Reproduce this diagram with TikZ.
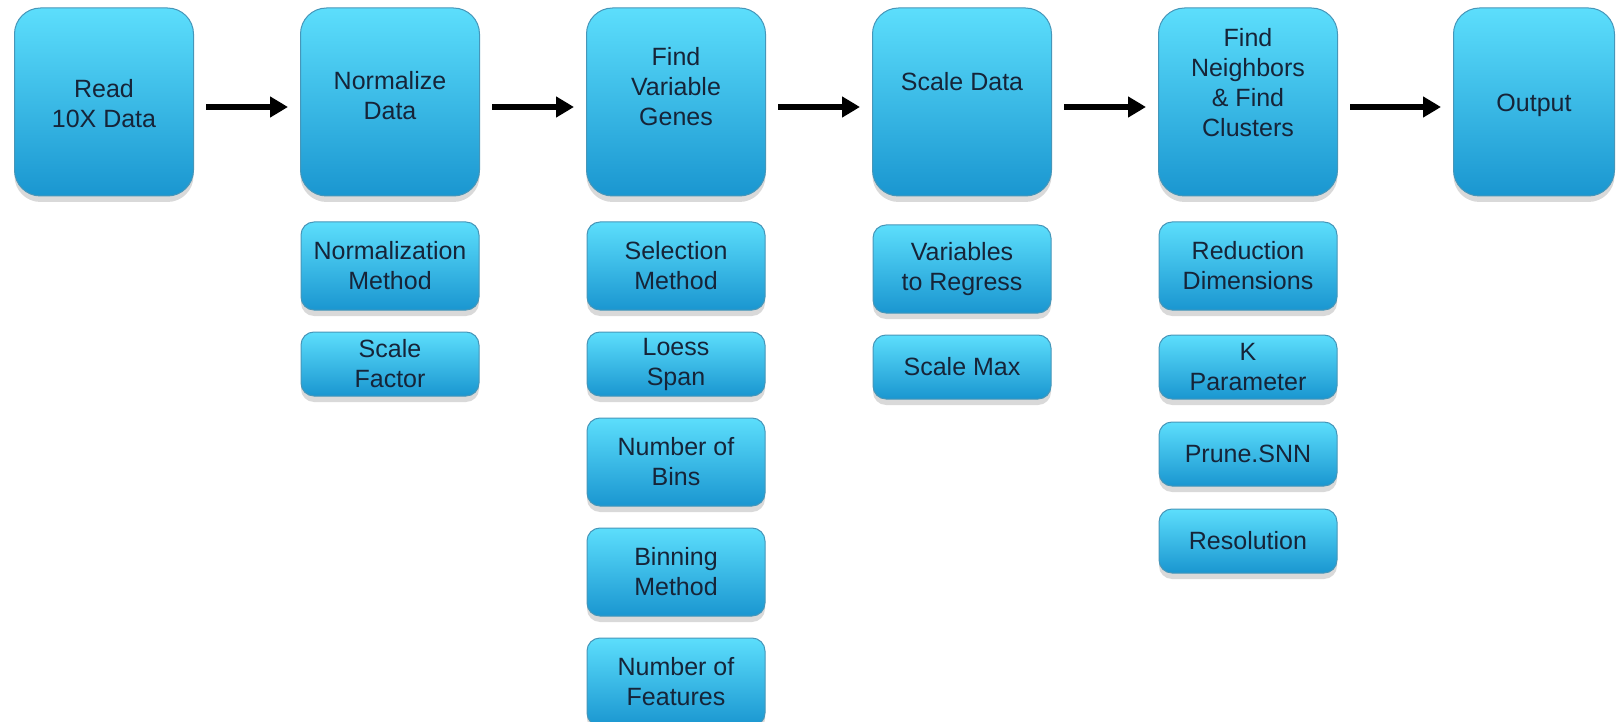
\documentclass[tikz,border=0pt]{standalone}
\usepackage{fontspec}
\setmainfont{Liberation Sans}
\usetikzlibrary{arrows.meta}
\usetikzlibrary{positioning}
\usetikzlibrary{shadows}
\definecolor{boxtop}{RGB}{92,222,252}
\definecolor{boxbot}{RGB}{26,150,208}
\definecolor{boxline}{RGB}{70,150,185}
\definecolor{boxtext}{RGB}{22,36,56}

\begin{document}
\begin{tikzpicture}[x=0.5pt,y=-0.5pt,>={Triangle[length=9pt,width=10pt]}]
		\tikzstyle{box}=[rectangle,draw=boxline,line width=0.5pt,top color=boxtop,bottom color=boxbot,
			text=boxtext,font=\fontsize{12.5}{15}\selectfont,align=center,
			drop shadow={shadow xshift=0pt,shadow yshift=-3pt,opacity=0.3}];
		\tikzstyle{stepbox}=[box,rounded corners=13pt,minimum width=89.5pt,minimum height=94pt,node distance=143pt];
		\tikzstyle{steptext}=[text=boxtext,font=\fontsize{12.5}{15}\selectfont,align=center];
		\tikzstyle{parbox}=[box,rounded corners=6.5pt,minimum width=89pt,minimum height=44pt,inner sep=1pt];
		\tikzstyle{short}=[minimum height=32pt];
		\tikzstyle{flow}=[line width=3pt,shorten <=6pt,shorten >=6pt,transform canvas={yshift=-2.5pt}];
		\useasboundingbox (0,0) rectangle (1619,722);

		\node[stepbox,label={[steptext,yshift=-1pt]center:Read\\10X Data}](00) at (104,102){};
		\node[stepbox,right of=00,label={[steptext,yshift=3pt]center:Normalize\\Data}](10){}edge[<-,flow](00);
		\node[stepbox,right of=10,label={[steptext,yshift=7.5pt]center:Find\\Variable\\Genes}](20){}edge[<-,flow](10);
		\node[stepbox,right of=20,label={[steptext,yshift=10pt]center:Scale Data}](30){}edge[<-,flow](20);
		\node[stepbox,right of=30,label={[steptext,yshift=9.5pt]center:Find\\Neighbors\\\& Find\\Clusters}](40){}edge[<-,flow](30);
		\node[stepbox,right of=40,minimum width=80.5pt,label={[steptext,yshift=-1.5pt]center:Output}](50){}edge[<-,flow](40);

		\node[parbox,below=12.5pt of 10](11){Normalization\\Method};
		\node[parbox,short,below=10.5pt of 11](12){Scale\\Factor};

		\node[parbox,below=12.5pt of 20](21){Selection\\Method};
		\node[parbox,short,below=10.5pt of 21](22){Loess\\Span};
		\node[parbox,below=10.5pt of 22](23){Number of\\Bins};
		\node[parbox,below=10.5pt of 23](24){Binning\\Method};
		\node[parbox,below=10.5pt of 24](25){Number of\\Features};

		\node[parbox,below=14pt of 30](31){Variables\\to Regress};
		\node[parbox,short,below=10.5pt of 31](32){Scale Max};

		\node[parbox,below=12.5pt of 40](41){Reduction\\Dimensions};
		\node[parbox,short,below=12pt of 41](42){K\\Parameter};
		\node[parbox,short,below=11pt of 42](43){Prune.SNN};
		\node[parbox,short,below=11pt of 43](44){Resolution};
	\end{tikzpicture}
\end{document}
